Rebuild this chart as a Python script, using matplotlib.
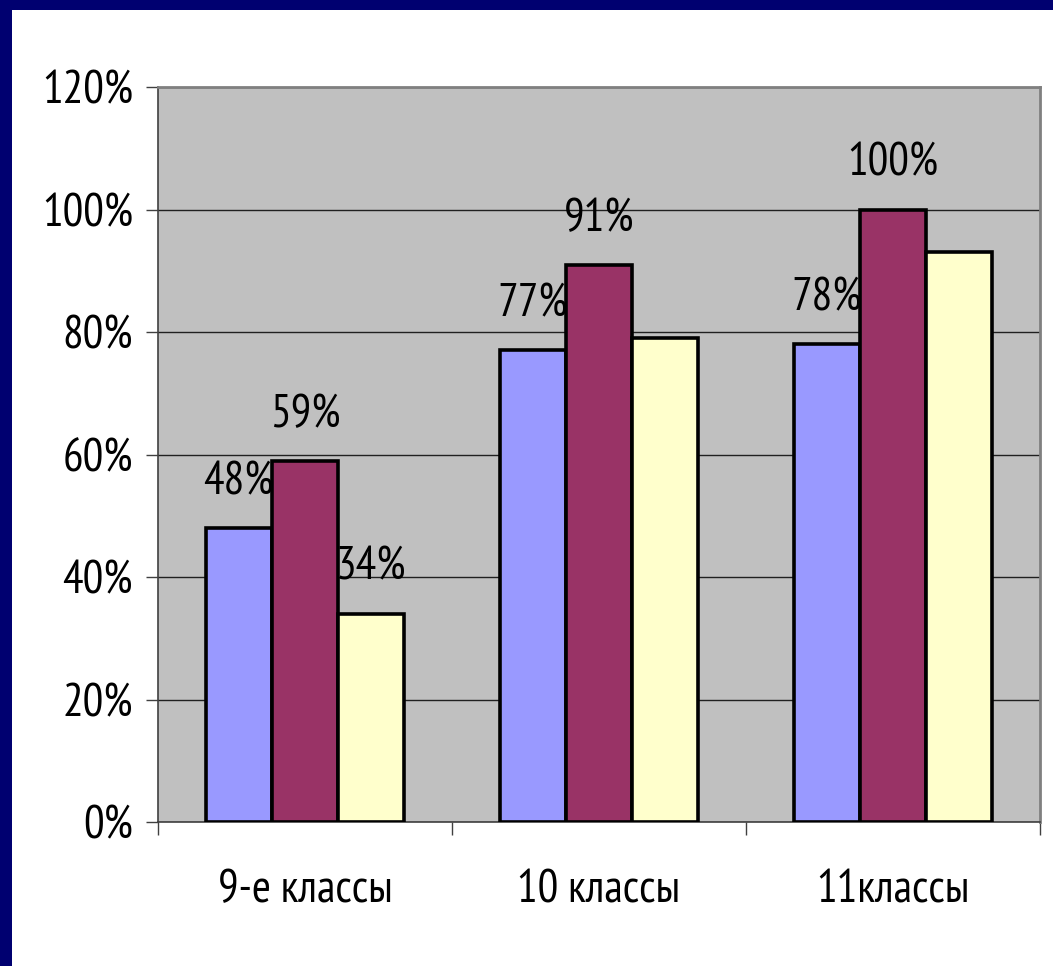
import numpy as np
import matplotlib.pyplot as plt
from matplotlib.patches import Rectangle

categories = ['9-е классы', '10 классы', '11классы']
series_a = [48, 77, 78]
series_b = [59, 91, 100]
series_c = [34, 79, 93]
labels_a = ['48%', '77%', '78%']
labels_b = ['59%', '91%', '100%']
labels_c = ['34%', '', '']
colors = ['#9999FF', '#993366', '#FFFFCC']
yticks = [0, 20, 40, 60, 80, 100, 120]

plt.rcParams['font.family'] = ['PT Sans Narrow', 'DejaVu Sans']
fs = 33

fig = plt.figure(figsize=(10.53, 9.66), dpi=100)
fig.patch.set_facecolor('#000070')
fig.patches.append(Rectangle((12 / 1053, 0), 1, 1 - 10 / 966, transform=fig.transFigure,
                             facecolor='white', edgecolor='none', zorder=-10))

ax = fig.add_axes([158 / 1053, 1 - 822 / 966, (1040 - 158) / 1053, (822 - 87) / 966])
ax.set_facecolor('#C0C0C0')

x = np.arange(len(categories))
w = 0.225
for i, (vals, labs) in enumerate([(series_a, labels_a), (series_b, labels_b), (series_c, labels_c)]):
    pos = x + (i - 1) * w
    ax.bar(pos, vals, width=w, color=colors[i], edgecolor='black', linewidth=2.6, zorder=3)
    for p, v, t in zip(pos, vals, labs):
        if t:
            ax.text(p, v + 7.5, t, ha='center', va='center', fontsize=fs, zorder=4)

ax.set_xlim(-0.5, 2.5)
ax.set_ylim(0, 120)
ax.set_yticks(yticks)
ax.set_yticklabels([f'{t}%' for t in yticks], fontsize=fs)
ax.yaxis.grid(True, color='#202020', linewidth=1.0, zorder=1)
ax.set_xticks(x)
ax.set_xticklabels(categories, fontsize=fs)
ax.set_xticks([-0.5, 0.5, 1.5, 2.5], minor=True)
ax.tick_params(axis='x', which='major', length=0, pad=34)
ax.tick_params(axis='x', which='minor', length=9, width=1, color='#404040')
ax.tick_params(axis='y', length=9, width=1, color='#404040', pad=9)
for s in ['top', 'right']:
    ax.spines[s].set_color('#808080')
    ax.spines[s].set_linewidth(2)
for s in ['left', 'bottom']:
    ax.spines[s].set_color('#404040')
    ax.spines[s].set_linewidth(1.2)

fig.savefig('out.png', dpi=100, facecolor=fig.get_facecolor())
